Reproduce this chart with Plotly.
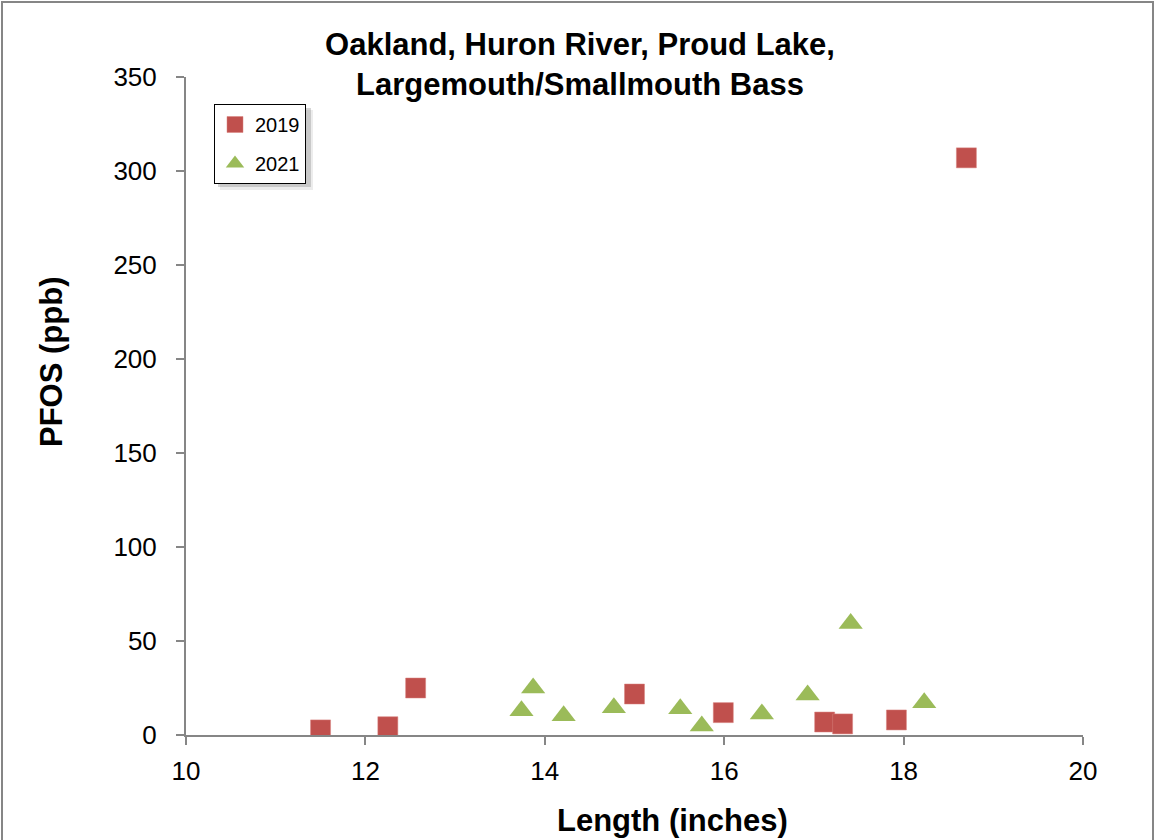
import plotly.graph_objects as go

# 2019 data
len_2019 = [11.50, 12.25, 12.56, 15.00, 15.99, 17.12, 17.32, 17.92, 18.70]
pfos_2019 = [2.7, 4.4, 25.0, 21.8, 11.9, 6.9, 5.9, 8.0, 307.0]

# 2021 data
len_2021 = [13.74, 13.87, 14.21, 14.77, 15.51, 15.75, 16.42, 16.93, 17.41, 18.23]
pfos_2021 = [12.9, 25.0, 10.3, 14.5, 14.0, 4.8, 11.2, 21.3, 59.3, 17.2]

title_text = "Oakland, Huron River, Proud Lake,<br>Largemouth/Smallmouth Bass"
x_title = "Length (inches)"
y_title = "PFOS (ppb)"

FONT = "Liberation Sans, Arial, sans-serif"

fig = go.Figure()
fig.add_trace(go.Scatter(
    x=len_2019, y=pfos_2019, mode="markers", name="2019", legendgroup="a",
    marker=dict(symbol="square", size=20, color="#C0504D",
                line=dict(width=0.5, color="#D9827F")),
))
fig.add_trace(go.Scatter(
    x=len_2021, y=pfos_2021, mode="markers", name="2021", legendgroup="b",
    marker=dict(symbol="triangle-up", size=21, color="#9BBB59",
                line=dict(width=0)),
))

axis_font = dict(family=FONT, size=26, color="#000000")
title_font = dict(family=FONT, size=31, color="#000000")

# legend box approx in pixels (left, top, right, bottom)
LG_L, LG_T, LG_R, LG_B = 214, 104, 307, 183
PX0, PX1, PY0, PY1 = 186, 1083, 735, 77
def px(x):
    return (x - PX0) / (PX1 - PX0)
def py(y):
    return (PY0 - y) / (PY0 - PY1)

fig.update_layout(
    width=1156, height=840,
    margin=dict(l=186, r=73, t=77, b=105),
    paper_bgcolor="white", plot_bgcolor="white",
    title=dict(text="<b>" + title_text + "</b>", x=580 / 1156, xanchor="center", xref="container",
               y=1 - 55 / 840, yanchor="top", yref="container",
               font=dict(family=FONT, size=31, color="#000000")),
    showlegend=True,
    legend=dict(x=px(LG_L), y=py(LG_T), xanchor="left", yanchor="top",
                bgcolor="white", bordercolor="#000000", borderwidth=1,
                font=dict(family=FONT, size=20, color="#000000"),
                traceorder="grouped", tracegroupgap=10, itemsizing="trace",
                itemwidth=30),
    xaxis=dict(range=[10, 20], dtick=2, tick0=10, showgrid=False, zeroline=False,
               showline=True, linecolor="#868686", linewidth=2,
               ticks="outside", ticklen=8, tickcolor="#868686", tickwidth=2,
               tickfont=axis_font, ticklabelstandoff=4),
    yaxis=dict(range=[0, 350], dtick=50, tick0=0, showgrid=False, zeroline=False,
               showline=True, linecolor="#868686", linewidth=2,
               ticks="outside", ticklen=8, tickcolor="#868686", tickwidth=2,
               tickfont=axis_font, ticklabelstandoff=14),
    annotations=[
        dict(text="<b>" + x_title + "</b>", xref="paper", yref="paper",
             x=px(672), y=py(820), xanchor="center", yanchor="middle",
             showarrow=False, font=title_font),
        dict(text="<b>" + y_title + "</b>", xref="paper", yref="paper",
             x=px(51), y=py(362), xanchor="center", yanchor="middle",
             textangle=-90, showarrow=False, font=title_font),
    ],
    shapes=[
        # outer chart border
        dict(type="rect", xref="paper", yref="paper",
             x0=px(2), x1=px(1153), y0=py(860), y1=py(2),
             line=dict(color="#868686", width=2), fillcolor="rgba(0,0,0,0)", layer="below"),
        # legend soft shadow
        dict(type="rect", xref="paper", yref="paper",
             x0=px(LG_L + 6), x1=px(LG_R + 6), y0=py(LG_B + 7), y1=py(LG_T + 6),
             line=dict(width=0), fillcolor="rgba(150,150,150,0.18)", layer="below"),
        dict(type="rect", xref="paper", yref="paper",
             x0=px(LG_L + 4), x1=px(LG_R + 4), y0=py(LG_B + 4), y1=py(LG_T + 4),
             line=dict(width=0), fillcolor="rgba(120,120,120,0.30)", layer="below"),
    ],
)

fig.write_html("out.html", config={"displayModeBar": False},
               post_script="document.body.style.margin='0';document.body.style.padding='0';")
